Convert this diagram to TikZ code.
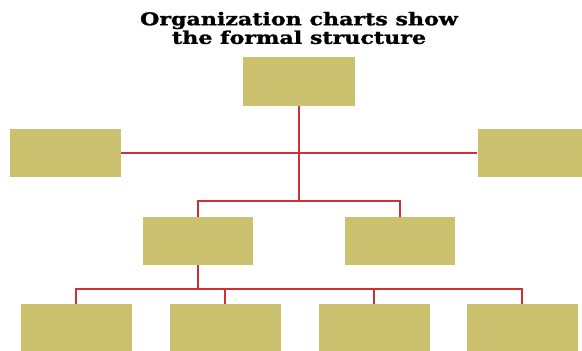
\documentclass[tikz,border=0pt]{standalone}
\usepackage{fontspec}
\newfontfamily\titlefont[FakeStretch=1.26,FakeBold=1.4]{DejaVu Serif}
\usetikzlibrary{positioning,calc}
\definecolor{khaki}{RGB}{203,193,110}
\definecolor{linkred}{RGB}{208,48,52}
\tikzset{
  unit/.style={fill=khaki,draw=none,minimum width=2.22cm,minimum height=0.96cm,inner sep=0pt},
  link/.style={draw=linkred,line width=1.1pt},
  cim/.style={align=center,font=\titlefont\bfseries\fontsize{10}{10.6}\selectfont},
}

\begin{document}
\begin{tikzpicture}
  \useasboundingbox (0,0) rectangle (11.64,-7.02);
  \node[cim] (title) at (5.98,-0.56) {Organization charts show\\the formal structure};
  \node[unit,minimum width=2.24cm,minimum height=0.98cm] (T) at (5.98,-1.63) {};
  \node[unit] (L) at (1.31,-3.06) {};
  \node[unit] (R) at (10.66,-3.06) {};
  \node[unit,minimum width=2.2cm] (M1) at (3.96,-4.82) {};
  \node[unit,minimum width=2.2cm] (M2) at (8.00,-4.82) {};
  \node[unit] (B1) at (1.52,-6.56) {};
  \node[unit] (B2) at (4.50,-6.56) {};
  \node[unit] (B3) at (7.48,-6.56) {};
  \node[unit] (B4) at (10.44,-6.56) {};
  \coordinate (J) at (5.98,-4.02);
  \coordinate (K) at (3.96,-5.78);
  \draw[link] (L.east) -- (R.west);
  \draw[link] (T.south) -- (J);
  \draw[link] (M1.north) |- (J) -| (M2.north);
  \draw[link] (M1.south) -- (K);
  \draw[link] (B1.north) |- (K) -| (B4.north);
  \draw[link] (B2.north) -- (B2 |- K);
  \draw[link] (B3.north) -- (B3 |- K);
\end{tikzpicture}
\end{document}
